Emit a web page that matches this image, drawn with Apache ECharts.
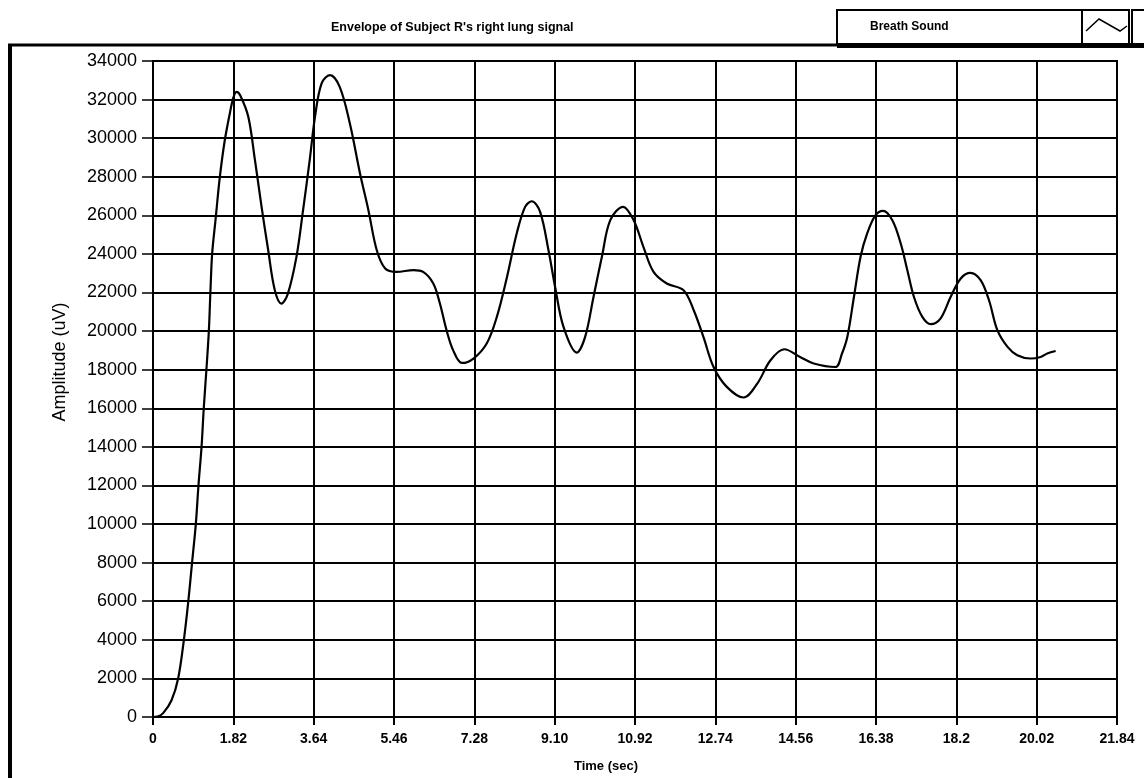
<!DOCTYPE html>
<html>
<head>
<meta charset="utf-8">
<script src="https://cdn.jsdelivr.net/npm/echarts@6/dist/echarts.min.js"></script>
<style>
html,body{margin:0;padding:0;background:#fff;}
#chart{width:1144px;height:778px;}
</style>
</head>
<body>
<div id="chart"></div>
<script>
// ---- data ----
var titleText = "Envelope of Subject R's right lung signal";
var seriesName = "Breath Sound";
var xTickLabels = ["0","1.82","3.64","5.46","7.28","9.10","10.92","12.74","14.56","16.38","18.2","20.02","21.84"];
var yTickLabels = ["0","2000","4000","6000","8000","10000","12000","14000","16000","18000","20000","22000","24000","26000","28000","30000","32000","34000"];
var timeSec = [0,0.1,0.23,0.42,0.57,0.70,0.80,0.885,0.97,1.03,1.10,1.15,1.21,1.265,1.30,1.34,1.42,1.51,1.62,1.74,1.82,1.89,1.98,2.16,2.31,2.46,2.61,2.76,2.91,3.05,3.25,3.40,3.55,3.67,3.82,4.01,4.23,4.46,4.69,4.88,5.07,5.26,5.52,5.90,6.12,6.35,6.50,6.65,6.80,7.00,7.26,7.56,7.79,8.02,8.24,8.43,8.58,8.77,8.96,9.11,9.30,9.60,9.79,9.98,10.17,10.36,10.65,10.89,11.11,11.34,11.64,12.02,12.25,12.47,12.70,13.00,13.38,13.69,13.99,14.30,14.67,14.97,15.46,15.61,15.73,15.88,16.03,16.18,16.37,16.54,16.75,16.94,17.09,17.24,17.43,17.62,17.84,18.07,18.30,18.52,18.75,18.94,19.13,19.36,19.58,19.88,20.11,20.26,20.45];
var amplitude = [0,20,200,870,2000,4000,6000,8000,10000,12000,14000,16000,18000,20000,22000,24000,25840,27900,29800,31280,32100,32400,32200,31100,28860,26440,24190,22120,21430,21900,23850,26270,28860,31100,32840,33270,32660,30760,28170,26270,24190,23250,23070,23160,23070,22470,21430,20050,19010,18350,18580,19360,20740,22810,25060,26440,26730,26180,24190,22290,20220,18890,19700,21770,23850,25750,26440,25750,24370,23070,22470,22120,21080,19700,18140,17110,16560,17280,18490,19060,18650,18320,18140,18840,19700,21770,23850,25060,26010,26230,25750,24540,23160,21770,20740,20360,20650,21770,22730,23020,22640,21600,20050,19180,18750,18580,18660,18840,18970];

var pts = timeSec.map(function(t,i){return [t, amplitude[i]];});
var boldFont = "'Liberation Sans',Arial,sans-serif";
var regular = "'Liberation Sans',Arial,sans-serif";

var chart = echarts.init(document.getElementById('chart'), null, {renderer:'canvas'});
chart.setOption({
  backgroundColor:'#fff',
  animation:false,
  title:{
    text:titleText, left:331, top:21, padding:0,
    textStyle:{fontFamily:boldFont, fontWeight:'bold', fontSize:12.5, color:'#000'}
  },
  legend:{
    left:865, top:21, padding:0, itemWidth:0, itemHeight:0, icon:'none',
    textStyle:{fontFamily:boldFont, fontWeight:'bold', fontSize:12, color:'#000'},
    data:[seriesName]
  },
  grid:{left:153, right:27, top:61, bottom:61, show:true, borderColor:'#000', borderWidth:2, backgroundColor:'#fff'},
  xAxis:{
    type:'value', min:0, max:21.84, interval:1.82,
    name:'Time (sec)', nameLocation:'middle', nameGap:43,
    nameTextStyle:{fontFamily:boldFont, fontWeight:'bold', fontSize:13, color:'#000', padding:[0,58,0,0]},
    axisLine:{lineStyle:{color:'#000', width:2}},
    axisTick:{show:true, length:8, lineStyle:{color:'#000', width:2}},
    axisLabel:{margin:15, fontFamily:boldFont, fontWeight:'bold', fontSize:14, color:'#000',
      formatter:function(v){return xTickLabels[Math.round(v/1.82)];}},
    splitLine:{show:true, lineStyle:{color:'#000', width:2}}
  },
  yAxis:{
    type:'value', min:0, max:34000, interval:2000,
    name:'Amplitude (uV)', nameLocation:'middle', nameGap:84,
    nameTextStyle:{fontFamily:regular, fontSize:18, color:'#000', padding:[0,0,0,54]},
    axisLine:{show:true, lineStyle:{color:'#000', width:2}},
    axisTick:{show:true, length:11, lineStyle:{color:'#000', width:1.5}},
    axisLabel:{margin:16, fontFamily:regular, fontSize:18, color:'#000',
      formatter:function(v){return yTickLabels[Math.round(v/2000)];}},
    splitLine:{show:true, lineStyle:{color:'#000', width:2}}
  },
  graphic:[
    {type:'line', shape:{x1:8,y1:45,x2:1144,y2:45}, style:{stroke:'#000', lineWidth:3}, z:100},
    {type:'line', shape:{x1:10,y1:44,x2:10,y2:778}, style:{stroke:'#000', lineWidth:4}, z:100},
    {type:'rect', shape:{x:837,y:10,width:292,height:34}, style:{fill:'none', stroke:'#000', lineWidth:2}, z:100},
    {type:'line', shape:{x1:1082,y1:10,x2:1082,y2:44}, style:{stroke:'#000', lineWidth:2}, z:100},
    {type:'polyline', shape:{points:[[1086,31],[1099,19],[1120,31],[1127,26]]}, style:{fill:'none', stroke:'#000', lineWidth:1.5}, z:100},
    {type:'rect', shape:{x:1132,y:10,width:30,height:34}, style:{fill:'none', stroke:'#000', lineWidth:2}, z:100},
    {type:'rect', shape:{x:837,y:43,width:307,height:5}, style:{fill:'#000'}, z:100}
  ],
  series:[{
    name:seriesName, type:'line', data:pts, showSymbol:false, smooth:0.35,
    lineStyle:{color:'#000', width:2.2}, itemStyle:{color:'#000'}, z:10
  }]
});
</script>
</body>
</html>
